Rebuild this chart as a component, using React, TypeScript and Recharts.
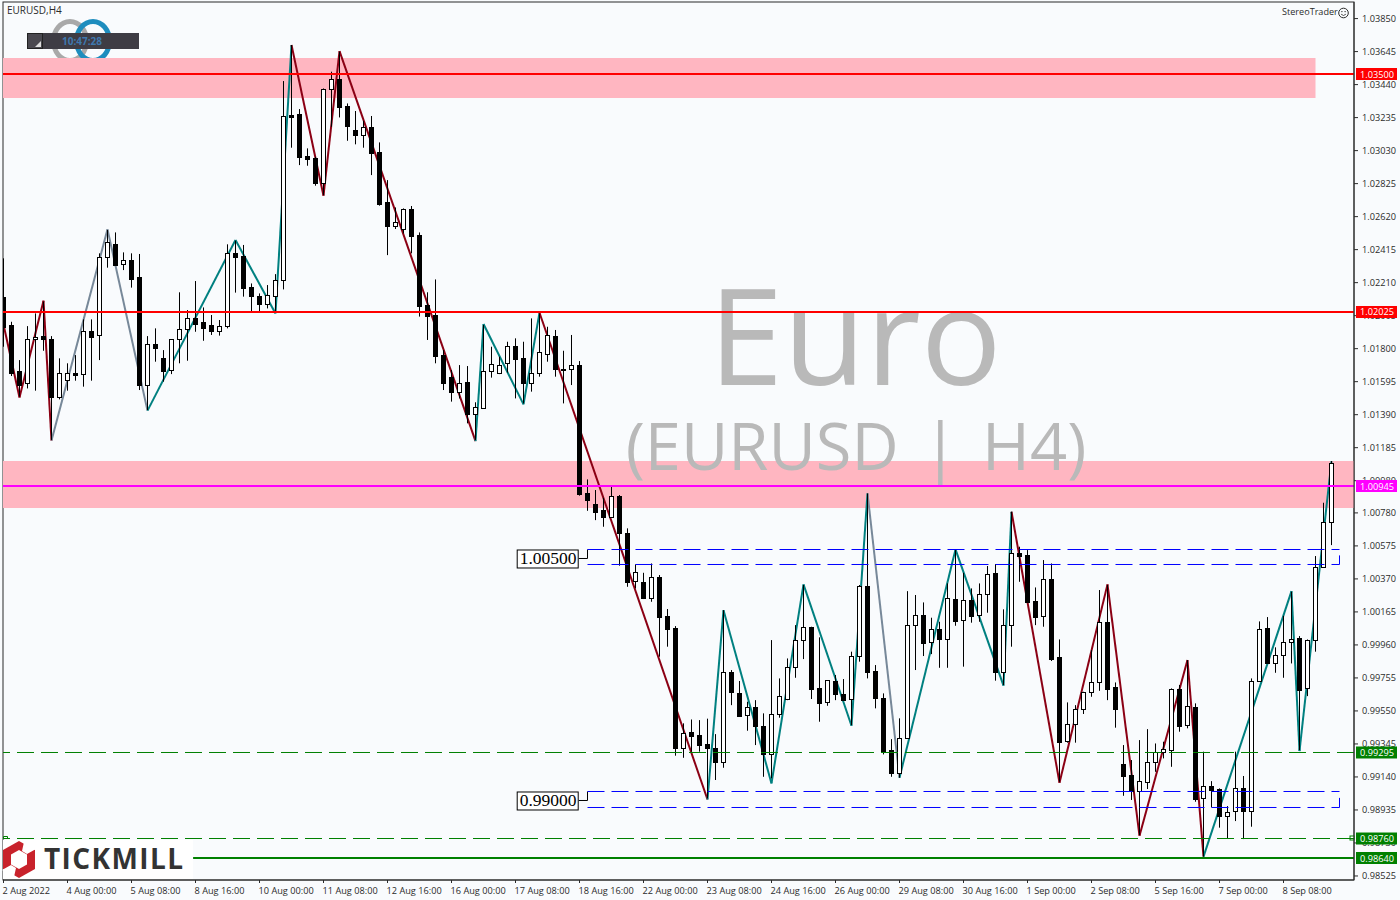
import React from 'react';
import {
  ComposedChart,
  Bar,
  Line,
  XAxis,
  YAxis,
  ReferenceArea,
  ReferenceLine,
} from 'recharts';

const highs = [
  1.02361,1.01967,1.01729,1.01940,1.02019,1.02092,1.01878,1.01740,1.01709,1.01760,
  1.01982,1.01982,1.02392,1.02537,1.02522,1.02398,1.02392,1.02388,1.01878,1.01926,
  1.01791,1.01858,1.02150,1.02040,1.02220,1.02056,1.02009,1.01978,1.02448,1.02470,
  1.02444,1.02205,1.02143,1.02195,1.02263,1.03462,1.03686,1.03288,1.03044,1.02992,
  1.03416,1.03520,1.03644,1.03323,1.03276,1.03216,1.03245,1.03081,1.02847,1.02677,
  1.02671,1.02686,1.02522,1.02150,1.02230,1.01791,1.01667,1.01698,1.01692,1.01467,
  1.01947,1.01812,1.01750,1.01843,1.01864,1.01843,1.01988,1.02019,1.01936,1.01916,
  1.01787,1.01885,1.01723,1.00988,1.00922,1.00874,1.00942,1.00891,1.00684,1.00460,
  1.00408,1.00466,1.00394,1.00183,1.00077,0.99473,0.99497,0.99493,0.99502,0.99406,
  1.00176,0.99804,0.99736,0.99607,0.99617,0.99535,0.99990,0.99752,0.99876,1.00083,
  1.00332,1.00073,1.00007,0.99742,0.99773,0.99748,0.99918,1.00332,1.00901,0.99835,
  0.99659,0.99375,0.99504,1.00294,1.00270,1.00224,1.00129,1.00104,1.00342,1.00549,
  1.00408,1.00311,1.00342,1.00450,1.00462,1.00181,1.00787,1.00570,1.00549,1.00317,
  1.00487,1.00466,0.99994,0.99603,0.99586,0.99669,0.99928,1.00301,1.00332,0.99727,
  0.99338,0.99245,0.99369,0.99437,0.99348,0.99359,0.99690,0.99711,0.99866,0.99597,
  0.99297,0.99114,0.99069,0.98959,0.99297,0.99146,0.99752,1.00106,1.00133,0.99945,
  1.00141,1.00290,1.00015,0.99994,1.00512,1.00843,1.01102,
];

const lows = [
  1.01812,1.01630,1.01502,1.01553,1.01539,1.01787,1.01233,1.01485,1.01539,1.01601,
  1.01564,1.01601,1.01729,1.02303,1.02319,1.02288,1.02179,1.01543,1.01419,1.01719,
  1.01595,1.01642,1.01709,1.01725,1.01905,1.01849,1.01885,1.01881,1.01926,1.02148,
  1.02123,1.02030,1.02030,1.02050,1.02023,1.02168,1.03048,1.02940,1.02936,1.02812,
  1.02754,1.03178,1.03236,1.03091,1.03069,1.03048,1.02878,1.02688,1.02381,1.02543,
  1.02516,1.02392,1.01999,1.01854,1.01709,1.01543,1.01471,1.01491,1.01336,1.01233,
  1.01429,1.01620,1.01642,1.01651,1.01491,1.01460,1.01533,1.01626,1.01719,1.01626,
  1.01460,1.01574,1.00887,1.00793,1.00735,1.00694,1.00756,1.00452,1.00321,1.00311,
  1.00245,1.00228,0.99887,0.99949,0.99272,0.99259,0.99297,0.99297,0.99007,0.99121,
  0.99197,0.99586,0.99514,0.99427,0.99338,0.99141,0.99131,0.99508,0.99617,0.99756,
  0.99872,0.99624,0.99483,0.99582,0.99617,0.99615,0.99462,0.99856,0.99752,0.99566,
  0.99280,0.99141,0.99135,0.99377,0.99804,0.99891,0.99903,0.99818,0.99818,1.00079,
  0.99825,1.00098,1.00104,1.00160,0.99738,0.99711,0.99949,1.00352,1.00226,1.00083,
  1.00073,0.99860,0.99110,0.99353,0.99353,0.99531,0.99638,0.99675,0.99617,0.99446,
  0.99023,0.98997,0.98779,0.99065,0.99172,0.99255,0.99203,0.99421,0.99442,0.98986,
  0.98645,0.98951,0.98825,0.98758,0.98866,0.98754,0.98831,0.99731,0.99845,0.99787,
  0.99756,0.99845,0.99307,0.99642,0.99918,1.00439,1.00580,
];

const opens = [
  1.02123,1.01947,1.01661,1.01584,1.01858,1.01878,1.01858,1.01498,1.01605,1.01647,
  1.01640,1.01912,1.01883,1.02367,1.02448,1.02323,1.02348,1.02243,1.01572,1.01829,
  1.01740,1.01667,1.01858,1.01920,1.01988,1.01963,1.01947,1.01912,1.01938,1.02392,
  1.02375,1.02181,1.02127,1.02075,1.02129,1.02224,1.03251,1.03255,1.02996,1.02982,
  1.02831,1.03410,1.03472,1.03305,1.03158,1.03129,1.03176,1.03021,1.02711,1.02564,
  1.02545,1.02665,1.02506,1.02071,1.02007,1.01760,1.01622,1.01533,1.01591,1.01392,
  1.01433,1.01659,1.01647,1.01709,1.01814,1.01740,1.01584,1.01651,1.01765,1.01878,
  1.01673,1.01671,1.01696,1.00903,1.00835,1.00797,1.00756,1.00884,1.00653,1.00359,
  1.00350,1.00253,1.00381,1.00137,1.00063,0.99317,0.99417,0.99398,0.99342,0.99317,
  0.99235,0.99789,0.99659,0.99522,0.99572,0.99456,0.99280,0.99528,0.99622,0.99825,
  0.99988,1.00069,0.99690,0.99603,0.99736,0.99655,0.99622,0.99889,1.00325,0.99798,
  0.99628,0.99307,0.99162,0.99379,1.00085,1.00145,0.99976,1.00056,0.99994,1.00245,
  1.00112,1.00236,1.00143,1.00274,1.00404,0.99789,1.00081,1.00528,1.00516,1.00232,
  1.00137,1.00367,0.99882,0.99365,0.99466,0.99560,0.99665,0.99727,1.00100,0.99698,
  0.99220,0.99152,0.99050,0.99110,0.99235,0.99292,0.99309,0.99686,0.99460,0.99574,
  0.99007,0.99081,0.99063,0.98899,0.98926,0.99069,0.98926,0.99733,1.00063,0.99849,
  0.99895,0.99976,1.00000,0.99690,0.99988,1.00441,1.00721,
];

const closes = [
  1.01936,1.01651,1.01574,1.01858,1.01874,1.01858,1.01498,1.01647,1.01647,1.01638,
  1.01912,1.01874,1.02367,1.02460,1.02321,1.02348,1.02234,1.01576,1.01827,1.01806,
  1.01663,1.01858,1.01920,1.01988,1.01953,1.01930,1.01912,1.01938,1.02392,1.02371,
  1.02179,1.02129,1.02075,1.02131,1.02224,1.03243,1.03241,1.02992,1.02980,1.02831,
  1.03410,1.03472,1.03298,1.03185,1.03129,1.03176,1.03017,1.02700,1.02564,1.02584,
  1.02665,1.02502,1.02067,1.02005,1.01756,1.01589,1.01533,1.01584,1.01392,1.01435,
  1.01659,1.01707,1.01700,1.01814,1.01738,1.01584,1.01651,1.01777,1.01883,1.01671,
  1.01669,1.01700,1.00897,1.00860,1.00787,1.00756,1.00882,1.00653,1.00352,1.00410,
  1.00253,1.00379,1.00135,1.00060,0.99317,0.99415,0.99396,0.99340,0.99321,0.99235,
  0.99789,0.99669,0.99520,0.99572,0.99458,0.99280,0.99528,0.99644,0.99820,0.99988,
  1.00069,0.99688,0.99601,0.99740,0.99653,0.99617,0.99889,1.00325,0.99793,0.99628,
  0.99297,0.99162,0.99379,1.00081,1.00143,0.99974,1.00056,0.99994,1.00249,1.00110,
  1.00236,1.00141,1.00274,1.00398,0.99789,1.00081,1.00534,1.00514,1.00228,1.00135,
  1.00367,0.99874,0.99359,0.99466,0.99560,0.99665,0.99727,1.00100,0.99688,0.99564,
  0.99148,0.99050,0.99112,0.99230,0.99292,0.99311,0.99686,0.99458,0.99578,0.99001,
  0.99081,0.99061,0.98899,0.98920,0.99073,0.98926,0.99733,1.00060,0.99849,0.99895,
  0.99976,0.99994,0.99682,0.99988,1.00441,1.00721,1.01087,
];

// zigzag pivots: bar number, price, colour of the leg that ends at this pivot
const pivotBars = [0,2,5,6,13,18,29,34,36,40,42,59,60,65,67,88,90,96,100,106,108,112,119,125,126,132,138,142,148,150,161,162,166];
const pivotPrices = [
  1.01950,1.01497,1.02098,1.01229,1.02541,1.01415,1.02475,1.02019,1.03686,1.02750,1.03648,
  1.01226,1.01953,1.01454,1.02023,0.99000,1.00176,0.99100,1.00336,0.99458,1.00901,0.99135,
  1.00553,0.99707,1.00787,0.99104,1.00336,0.98775,0.99866,0.98645,1.00294,0.99301,1.01102,
];
const RED = '#8B0014';
const TEAL = '#008080';
const GREY = '#778899';
const legColors = [
  RED,RED,RED,RED,GREY,GREY,TEAL,TEAL,TEAL,RED,RED,RED,TEAL,TEAL,TEAL,RED,TEAL,TEAL,TEAL,
  TEAL,TEAL,GREY,TEAL,TEAL,TEAL,RED,RED,RED,RED,RED,TEAL,TEAL,TEAL,
];

const priceTicks = [
  1.0385,1.03645,1.0344,1.03235,1.0303,1.02825,1.0262,1.02415,1.0221,1.02005,1.018,1.01595,
  1.0139,1.01185,1.0098,1.0078,1.00575,1.0037,1.00165,0.9996,0.99755,0.9955,0.99345,0.9914,
  0.98935,0.9873,0.98525,
];
const timeLabels = [
  '2 Aug 2022','4 Aug 00:00','5 Aug 08:00','8 Aug 16:00','10 Aug 00:00','11 Aug 08:00','12 Aug 16:00',
  '16 Aug 00:00','17 Aug 08:00','18 Aug 16:00','22 Aug 00:00','23 Aug 08:00','24 Aug 16:00','26 Aug 00:00',
  '29 Aug 08:00','30 Aug 16:00','1 Sep 00:00','2 Sep 08:00','5 Sep 16:00','7 Sep 00:00','8 Sep 08:00',
];
const timeTicks = timeLabels.map((_, i) => i * 8);

// horizontal levels with their price tags
const levelPrices = [1.035058, 1.020277, 1.00947, 0.992919, 0.987577, 0.986366];
const levelTexts = ['1.03500', '1.02025', '1.00945', '0.99295', '0.98760', '0.98640'];
const levelColors = ['#FF0000', '#FF0000', '#FF00FF', '#008000', '#008000', '#008000'];

const candles = highs.map((h, i) => ({ bar: i, high: h, low: lows[i], open: opens[i], close: closes[i] }));

const FONT = '"Open Sans", sans-serif';
const INK = '#2b2b2b';
const BG = '#F9FBFD';
const PINK = '#FFB6C1';
const DOMAIN_Y: [number, number] = [0.985, 1.03953];

const Candle = (props: any) => {
  const { x, y, width, height, payload } = props;
  const cx = Math.floor(x + width / 2) + 0.5;
  const perUnit = height / (payload.high - payload.low);
  const top = Math.round(y + (payload.high - Math.max(payload.open, payload.close)) * perUnit);
  const bottom = Math.round(y + (payload.high - Math.min(payload.open, payload.close)) * perUnit);
  const up = payload.close > payload.open;
  return (
    <g>
      <line x1={cx} x2={cx} y1={y} y2={y + height} stroke="#000" strokeWidth={1} />
      <rect
        x={cx - 2}
        y={top + 0.5}
        width={4}
        height={Math.max(bottom - top, 1)}
        fill={up ? '#fff' : '#000'}
        stroke="#000"
        strokeWidth={1}
      />
    </g>
  );
};

const PriceTick = (props: any) => (
  <text x={props.x + 2} y={props.y + 3.5} fontFamily={FONT} fontSize={9.2} fill={INK}>
    {props.payload.value.toFixed(5)}
  </text>
);

const TimeTick = (props: any) => (
  <text x={props.x - 1} y={props.y + 9} fontFamily={FONT} fontSize={9.2} fill={INK}>
    {timeLabels[props.index]}
  </text>
);

// second price axis: its ticks are the coloured boxes, so they lie over the normal ticks
const LevelTag = (props: any) => {
  const i = levelPrices.indexOf(props.payload.value);
  return (
    <g>
      <rect x={1356} y={props.y - 6} width={41} height={12} fill={levelColors[i]} />
      <text x={1360} y={props.y + 3.5} fontFamily={FONT} fontSize={9.2} fill="#fff">{levelTexts[i]}</text>
    </g>
  );
};

// boxed level text at the start of a dashed bracket
const levelBox = (text: string) => (props: any) => {
  const { x, y } = props.viewBox;
  return (
    <g>
      <rect x={x - 61.5} y={y - 8.5} width={61} height={18} fill="#fff" stroke="#000" strokeWidth={1} />
      <text x={x - 59} y={y + 6} fontFamily='"Liberation Serif", serif' fontSize={17.5} fill="#000">{text}</text>
    </g>
  );
};

const bracket = (label: string, level: number, upper: number, lower: number) => [
  <ReferenceLine key={label + 'a'} segment={[{ x: 71.9, y: level }, { x: 73, y: level }]} stroke="#000" label={levelBox(label)} />,
  <ReferenceLine key={label + 'b'} segment={[{ x: 73, y: level }, { x: 73, y: upper }]} stroke="#000" />,
  <ReferenceLine key={label + 'c'} segment={[{ x: 73, y: upper }, { x: 167, y: upper }]} stroke="#0000FF" strokeDasharray="17 7" />,
  <ReferenceLine key={label + 'd'} segment={[{ x: 73, y: lower }, { x: 167, y: lower }]} stroke="#0000FF" strokeDasharray="17 7" />,
  <ReferenceLine key={label + 'e'} segment={[{ x: 167, y: lower }, { x: 167, y: (upper + lower) / 2 + 0.0001 }]} stroke="#0000FF" />,
];

// big title sits over the pink zones, under the candles
const titleLayer = () => (
  <g>
    <text x={855} y={385} textAnchor="middle" fontFamily={FONT} fontSize={134.5} fill="#B9B9B9">Euro</text>
    <text x={856} y={470} textAnchor="middle" fontFamily={FONT} fontSize={65} wordSpacing={7} fill="#B9B9B9">(EURUSD | H4)</text>
  </g>
);

const App = () => (
  <div style={{ position: 'absolute', left: 0, top: 0, width: 1400, height: 900, background: BG }}>
    <ComposedChart
      width={1400}
      height={900}
      data={candles}
      margin={{ top: 2, right: 0, bottom: 0, left: 3 }}
    >
      <XAxis
        dataKey="bar"
        type="number"
        domain={[-0.0625, 168.8125]}
        allowDataOverflow
        ticks={timeTicks}
        interval={0}
        height={20}
        tick={<TimeTick />}
        tickSize={3}
        stroke={INK}
      />
      <YAxis
        orientation="right"
        type="number"
        domain={DOMAIN_Y}
        allowDataOverflow
        ticks={priceTicks}
        interval={0}
        width={45}
        tick={<PriceTick />}
        tickSize={4}
        stroke={INK}
      />
      <YAxis
        yAxisId="tags"
        orientation="right"
        type="number"
        domain={DOMAIN_Y}
        allowDataOverflow
        ticks={levelPrices}
        interval={0}
        width={1}
        tick={<LevelTag />}
        tickLine={false}
        axisLine={false}
      />

      <ReferenceArea x1={-0.0625} x2={164} y1={1.03356} y2={1.03605} fill={PINK} fillOpacity={1} stroke="none" zIndex={60} />
      <ReferenceArea x1={-0.0625} x2={168.8125} y1={1.0081} y2={1.01102} fill={PINK} fillOpacity={1} stroke="none" zIndex={60} label={titleLayer} />

      {bracket('1.00500', 1.004968, 1.005526, 1.004595)}
      {bracket('0.99000', 0.989938, 0.990497, 0.989503)}

      <ReferenceLine y={levelPrices[0]} stroke={levelColors[0]} strokeWidth={2} />
      <ReferenceLine y={levelPrices[1]} stroke={levelColors[1]} strokeWidth={2} />
      <ReferenceLine y={levelPrices[2]} stroke={levelColors[2]} strokeWidth={2} />
      <ReferenceLine y={levelPrices[3]} stroke={levelColors[3]} strokeDasharray="17 7" />
      <ReferenceLine y={levelPrices[4]} stroke={levelColors[4]} strokeDasharray="17 7" />
      <ReferenceLine
        segment={[{ x: 23.7, y: levelPrices[5] }, { x: 168.8125, y: levelPrices[5] }]}
        stroke={levelColors[5]}
        strokeWidth={2}
      />

      {pivotBars.slice(1).map((bar, i) => (
        <Line
          key={bar}
          data={[
            { bar: pivotBars[i], zigzag: pivotPrices[i] },
            { bar, zigzag: pivotPrices[i + 1] },
          ]}
          dataKey="zigzag"
          stroke={legColors[i + 1]}
          strokeWidth={2}
          dot={false}
          isAnimationActive={false}
          legendType="none"
          zIndex={250}
        />
      ))}

      <Bar
        dataKey={(d: any) => [d.low, d.high]}
        barSize={6}
        shape={<Candle />}
        isAnimationActive={false}
      />

      <ellipse cx={70} cy={41} rx={16.5} ry={19.5} fill="none" stroke="#A9A9A9" strokeWidth={5} />
      <ellipse cx={93} cy={41} rx={16.5} ry={19.5} fill="none" stroke="#1E8DBE" strokeWidth={5} />
      <rect x={27} y={33} width={112} height={16} fill="#3E3C44" />
      <rect x={27.5} y={33.5} width={15} height={15} fill="#4A484F" stroke="#222" />
      <path d="M41 47 L41 41 L35 47 Z" fill="#DDD" />
      <text x={82} y={44.5} textAnchor="middle" fontFamily={FONT} fontSize={10} fontWeight={700} fill="#3F78AE">10:47:28</text>

      <text x={7} y={14} fontFamily={FONT} fontSize={10} fill={INK}>EURUSD,H4</text>
      <text x={1282} y={15} fontFamily={FONT} fontSize={9.1} fill={INK}>StereoTrader</text>
      <circle cx={1343.5} cy={13} r={4.8} fill="none" stroke={INK} />
      <circle cx={1341.9} cy={11.6} r={0.7} fill={INK} />
      <circle cx={1345.1} cy={11.6} r={0.7} fill={INK} />
      <path d="M1341.1 14.2 Q1343.5 16.8 1345.9 14.2" fill="none" stroke={INK} strokeWidth={0.8} />

      <rect x={3} y={2} width={1351} height={878} fill="none" stroke={INK} />

      <rect x={3} y={840} width={190} height={39} fill="#fff" />
      <path d="M19 841 L35 850 L35 869 L19 878 L3 869 L3 850 Z" fill="#C8222B" />
      <path d="M19 850 L27 854.5 L27 864.5 L19 869 L11 864.5 L11 854.5 Z" fill="#fff" />
      <path d="M24 842 L36 849 L27 854 L22 851 Z M14 877 L2 870 L11 865 L16 868 Z" fill="#fff" />
      <text x={44} y={869} fontFamily='"Open Sans", sans-serif' fontWeight={700} fontSize={28} letterSpacing={1.4} fill="#333">TICKMILL</text>
      <rect x={1350} y={836} width={4} height={4} fill="#fff" stroke="#008000" />
      <path d="M3.5 838.5 V836.5 H7.5 V838.5" fill="none" stroke="#008000" />
    </ComposedChart>
  </div>
);

export default App;
